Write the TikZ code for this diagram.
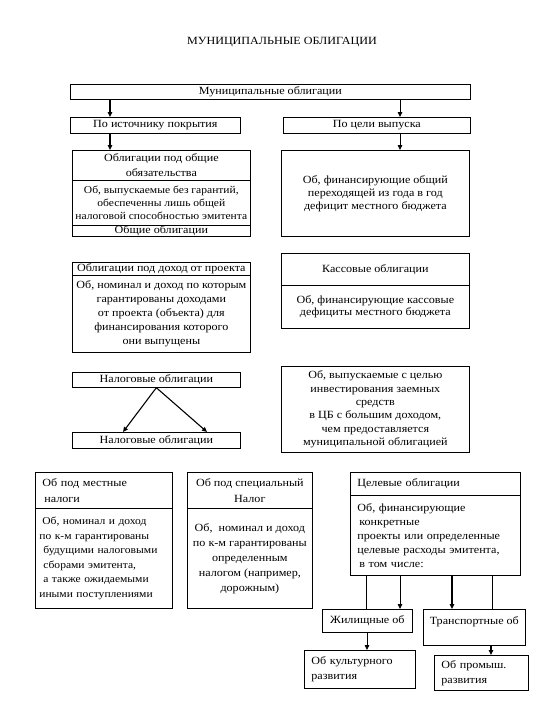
\documentclass[tikz,border=0pt]{standalone}
\usepackage{fontspec}
\setmainfont{Liberation Serif}[FakeStretch=1.1]
\usetikzlibrary{arrows.meta}

\begin{document}
\begin{tikzpicture}[
  x=1pt, y=-1pt,
  >={Triangle[length=5pt, width=4.5pt]},
  font=\fontsize{11}{13}\selectfont,
  box/.style={draw=black, line width=0.7pt, anchor=north west, inner sep=0.5pt, align=center},
  lbox/.style={box, align=left, inner xsep=7pt},
  arr/.style={->, draw=black, line width=0.8pt},
  boldarr/.style={->, draw=black, line width=1.6pt},
  link/.style={draw=black, line width=0.8pt}
]
\path[use as bounding box] (0,0) rectangle (540,720);
\node (title) at (282,42) {МУНИЦИПАЛЬНЫЕ ОБЛИГАЦИИ};

% top level
\node[box, minimum width=400pt, minimum height=15pt] (mun) at (70,84) {Муниципальные облигации};
\node[box, minimum width=170pt, minimum height=16pt] (src) at (70,117) {По источнику покрытия};
\node[box, minimum width=187pt, minimum height=16pt] (goal) at (283,117) {По цели выпуска};

% left column
\node[box, minimum width=178pt, minimum height=30pt, font=\fontsize{11}{15}\selectfont] (genA) at (72,150)
  {Облигации под общие\\обязательства};
\node[box, minimum width=178pt, minimum height=45pt, inner xsep=0pt, font=\fontsize{10.5}{13}\selectfont] (genB) at (72,180)
  {Об, выпускаемые без гарантий,\\обеспеченны лишь общей\\налоговой способностью эмитента};
\node[box, minimum width=178pt, minimum height=11pt] (genC) at (72,225) {Общие облигации};

\node[box, minimum width=178pt, minimum height=13pt] (projA) at (72,262) {Облигации под доход от проекта};
\node[box, minimum width=178pt, minimum height=77pt, font=\fontsize{11}{14}\selectfont] (projB) at (72,275)
  {Об, номинал и доход по которым\\гарантированы доходами\\от проекта (объекта) для\\финансирования которого\\они выпущены};

\node[box, minimum width=168pt, minimum height=15pt] (taxA) at (72,372) {Налоговые облигации};
\node[box, minimum width=168pt, minimum height=16pt] (taxB) at (72,432) {Налоговые облигации};

% right column
\node[box, minimum width=188pt, minimum height=86pt] (fullA) at (281,150)
  {Об, финансирующие общий\\переходящей из года в год\\дефицит местного бюджета};
\node[box, minimum width=188pt, minimum height=32pt] (cashA) at (281,253) {Кассовые облигации};
\node[box, minimum width=188pt, minimum height=43pt, font=\fontsize{11}{12}\selectfont] (cashB) at (281,285)
  {Об, финансирующие кассовые\\дефициты местного бюджета};
\node[box, minimum width=188pt, minimum height=86pt, font=\fontsize{11}{13.4}\selectfont] (invest) at (281,366)
  {Об, выпускаемые с целью\\инвестирования заемных\\средств\\в ЦБ с большим доходом,\\чем предоставляется\\муниципальной облигацией};

% bottom row
\node[lbox, text width=123pt, minimum width=137pt, minimum height=36pt, font=\fontsize{11}{16}\selectfont] (locA) at (35,472)
  {Об под местные\\\hspace{2pt}налоги};
\node[lbox, text width=133pt, inner xsep=2pt, minimum width=137pt, minimum height=100pt, font=\fontsize{10.5}{14.6}\selectfont] (locB) at (35,508)
  {\hspace{5pt}Об, номинал и доход\\\hspace{2pt}по к-м гарантированы\\\hspace{6pt}будущими\ налоговыми\\\hspace{6pt}сборами эмитента,\\\hspace{6pt}а также ожидаемыми\\\hspace{2pt}иными поступлениями};
\node[box, minimum width=125pt, minimum height=36pt, font=\fontsize{11}{16}\selectfont] (specA) at (187,472)
  {Об под специальный\\Налог};
\node[box, minimum width=125pt, minimum height=100pt, font=\fontsize{11}{15}\selectfont] (specB) at (187,508)
  {Об,\ \ номинал и доход\\по к-м гарантированы\\определенным\\налогом (например,\\дорожным)};
\node[lbox, text width=156pt, minimum width=170pt, minimum height=23pt] (targA) at (350,472) {Целевые облигации};
\node[lbox, text width=156pt, minimum width=170pt, minimum height=80pt, font=\fontsize{11}{14}\selectfont] (targB) at (350,495)
  {Об, финансирующие\\\hspace{2pt}конкретные\\проекты или определенные\\целевые расходы эмитента,\\\hspace{2pt}в том числе:};

\node[box, minimum width=90pt, minimum height=23pt] (house) at (322,609) {Жилищные об};
\node[box, minimum width=102pt, minimum height=36pt] (trans) at (423,609) {Транспортные об\\~};
\node[lbox, text width=97pt, minimum width=111pt, minimum height=38pt, font=\fontsize{11}{15}\selectfont] (cult) at (304,650)
  {Об культурного\\развития};
\node[lbox, text width=80pt, minimum width=94pt, minimum height=35pt, font=\fontsize{11}{15}\selectfont] (indus) at (434,655)
  {Об промыш.\\развития};

% connector columns
\coordinate (colL) at (110,0);
\coordinate (colR) at (400,0);
\coordinate (taxL) at (123,0);
\coordinate (taxR) at (207,0);
\coordinate (h1) at (366,0);
\coordinate (h2) at (400,0);
\coordinate (t1) at (452,0);
\coordinate (t2) at (492,0);
\coordinate (c1) at (367,0);
\coordinate (p1) at (491,0);

\draw[boldarr] (mun.south -| colL) -- (src.north -| colL);
\draw[arr] (mun.south -| colR) -- (goal.north -| colR);
\draw[boldarr] (src.south -| colL) -- (genA.north -| colL);
\draw[arr] (goal.south -| colR) -- (fullA.north -| colR);

\draw[arr, line width=1.1pt] (taxA.south) -- (taxB.north -| taxL);
\draw[arr, line width=1.1pt] (taxA.south) -- (taxB.north -| taxR);

\draw[link] (targB.south -| h1) -- (house.north -| h1);
\draw[arr] (targB.south -| h2) -- (house.north -| h2);
\draw[boldarr] (targB.south -| t1) -- (trans.north -| t1);
\draw[link] (targB.south -| t2) -- (trans.north -| t2);
\draw[arr] (house.south -| c1) -- (cult.north -| c1);
\draw[boldarr] (trans.south -| p1) -- (indus.north -| p1);
\end{tikzpicture}
\end{document}
